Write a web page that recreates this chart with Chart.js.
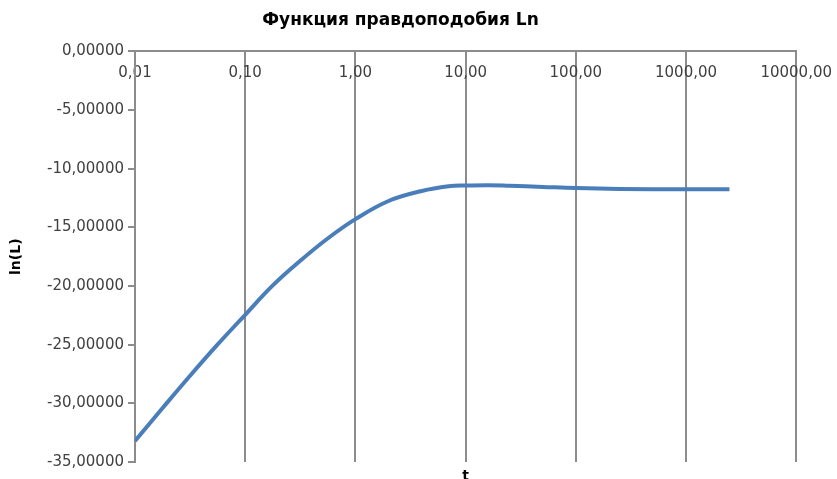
<!DOCTYPE html>
<html>
<head>
<meta charset="utf-8">
<script src="https://cdn.jsdelivr.net/npm/chart.js@4/dist/chart.umd.min.js"></script>
<style>
  html, body { margin: 0; padding: 0; background: #fff; }
  #wrap { width: 837px; height: 479px; }
</style>
</head>
<body>
<div id="wrap"><canvas id="lnChart" width="837" height="479"></canvas></div>
<script>
// значения
const tValues = [0.01, 0.0178, 0.0316, 0.056, 0.1, 0.178, 0.316, 0.56, 1, 2, 4, 7, 10, 16, 25, 50, 100, 250, 1000, 2480];
const lnL = [-33.2, -30.4, -27.65, -25.0, -22.45, -19.95, -17.85, -15.95, -14.3, -12.75, -11.9, -11.5, -11.43, -11.4, -11.45, -11.55, -11.65, -11.72, -11.75, -11.75];
const xTicks = [0.01, 0.1, 1, 10, 100, 1000, 10000];
const yMin = -35, yMax = 0, yStep = 5;

const points = tValues.map((t, i) => ({ x: t, y: lnL[i] }));
const axisColor = '#8c8c8c';
const textColor = '#404040';
const font = 'DejaVu Sans';

const ctx = document.getElementById('lnChart').getContext('2d');
new Chart(ctx, {
  type: 'line',
  data: {
    datasets: [{
      label: 'ln(L)',
      data: points,
      borderColor: '#4a7ebb',
      borderWidth: 4,
      pointRadius: 0,
      fill: false,
      tension: 0.4
    }]
  },
  options: {
    responsive: false,
    animation: false,
    layout: { padding: { left: 4, right: 40, top: 0, bottom: -6 } },
    plugins: {
      legend: { display: false },
      tooltip: { enabled: false },
      title: {
        display: true,
        text: 'Функция правдоподобия Ln',
        color: '#000',
        font: { family: font, size: 17, weight: 'bold' },
        padding: { top: 10, bottom: 21 }
      }
    },
    scales: {
      x: {
        type: 'logarithmic',
        min: 0.01,
        max: 10000,
        position: { y: 0 },
        afterBuildTicks: (scale) => {
          scale.ticks = xTicks.map(v => ({ value: v }));
        },
        ticks: {
          color: textColor,
          font: { family: font, size: 15 },
          padding: 5,
          maxRotation: 0,
          autoSkip: false,
          callback: (v) => Number(v).toFixed(2).replace('.', ',')
        },
        grid: { color: axisColor, lineWidth: 2, tickLength: 8 },
        border: { color: axisColor, width: 2 }
      },
      x2: {
        type: 'linear',
        position: 'bottom',
        min: 0,
        max: 1,
        afterFit: (scale) => { scale.height = 23; },
        ticks: { display: false },
        grid: { display: false, drawTicks: false },
        border: { display: false },
        title: {
          display: true,
          text: 't',
          color: '#000',
          font: { family: font, size: 14, weight: 'bold' },
          padding: 0
        }
      },
      y: {
        min: yMin,
        max: yMax,
        afterFit: (scale) => { scale.width = 131; },
        ticks: {
          stepSize: yStep,
          color: textColor,
          font: { family: font, size: 15 },
          padding: 4,
          callback: (v) => Number(v).toFixed(5).replace('.', ',')
        },
        grid: { drawOnChartArea: false, color: axisColor, lineWidth: 2, tickLength: 7 },
        border: { color: axisColor, width: 2 },
        title: {
          display: true,
          text: 'ln(L)',
          color: '#000',
          font: { family: font, size: 14, weight: 'bold' },
          padding: { top: 4, bottom: 0 }
        }
      }
    }
  }
});
</script>
</body>
</html>
